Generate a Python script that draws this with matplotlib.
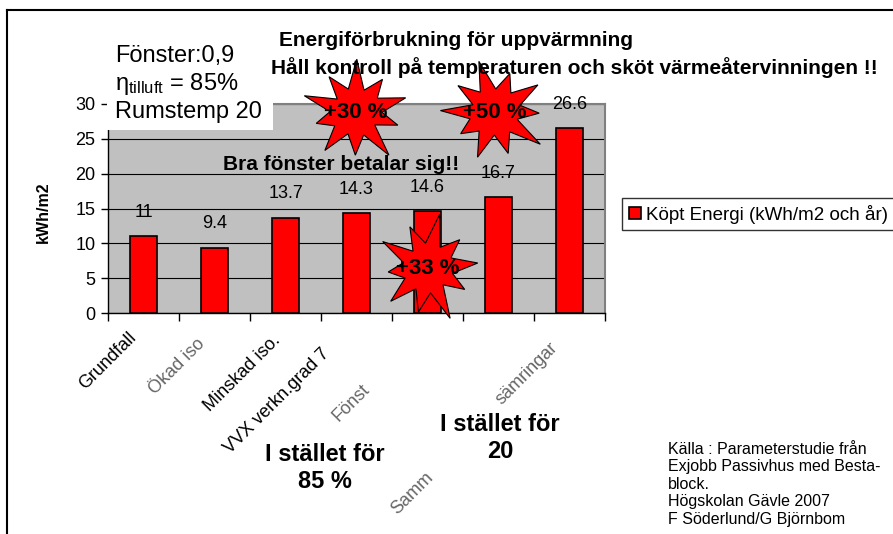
import numpy as np
import matplotlib
matplotlib.use('Agg')
import matplotlib.pyplot as plt
from matplotlib.patches import Polygon, Rectangle
from matplotlib.lines import Line2D
from matplotlib.transforms import ScaledTranslation

plt.rcParams['font.family'] = ['Liberation Sans', 'DejaVu Sans']
plt.rcParams['mathtext.fontset'] = 'custom'
plt.rcParams['mathtext.rm'] = 'Liberation Sans'

# Köpt energi per fall (kWh/m2 och år)
categories = ["Grundfall", "Ökad iso", "Minskad iso.", "VVX verkn.grad 7",
              "Fönst", "Samm", "sämringar"]
kopt_energi = [11, 9.4, 13.7, 14.3, 14.6, 16.7, 26.6]
value_labels = ["11", "9.4", "13.7", "14.3", "14.6", "16.7", "26.6"]
y_ticks = [0, 5, 10, 15, 20, 25, 30]
star_texts = ["+30 %", "+50 %", "+33 %"]

W, H = 893, 534
fig = plt.figure(figsize=(W / 100, H / 100), dpi=100)
ax = fig.add_axes([108 / W, 1 - 313 / H, 497 / W, 209 / H])

x = np.arange(len(categories))
ax.set_facecolor('#c0c0c0')
bars = ax.bar(x, kopt_energi, width=0.39, color='#ff0000', edgecolor='black',
              linewidth=1.2, zorder=3, label='Köpt Energi (kWh/m2 och år)')
for b, v, t in zip(bars, kopt_energi, value_labels):
    ax.annotate(t, (b.get_x() + b.get_width() / 2, v), xytext=(0, 17),
                textcoords='offset points', ha='center', va='center',
                fontsize=13, zorder=4)

ax.set_xlim(-0.5, len(categories) - 0.5)
ax.set_ylim(0, 30)
ax.set_yticks(y_ticks)
ax.tick_params(axis='y', labelsize=13, length=5, width=1, pad=4)
ax.yaxis.grid(True, color='black', linewidth=0.8)
ax.set_axisbelow(True)

ax.set_xticks(x)
ax.set_xticklabels(categories, rotation=45, ha='right', va='center',
                   rotation_mode='anchor', fontsize=13)
ax.set_xticks(np.arange(-0.5, len(categories), 1), minor=True)
ax.tick_params(axis='x', which='major', length=0, pad=16)
ax.tick_params(axis='x', which='minor', length=6, width=1)

# förskjutning (px) av kategoritexterna
shifts = [(-10, 0), (-12, 6), (-8, 3), (-30, 16), (-60, 52), (-68, 140), (-14, 10)]
for i, (lbl, (dx, dy)) in enumerate(zip(ax.get_xticklabels(), shifts)):
    lbl.set_transform(lbl.get_transform() +
                      ScaledTranslation(dx / 100, -dy / 100, fig.dpi_scale_trans))
    if i in (1, 4, 5, 6):
        lbl.set_color('#666666')

for s in ['left', 'bottom']:
    ax.spines[s].set_color('black')
    ax.spines[s].set_linewidth(1)
for s in ['top', 'right']:
    ax.spines[s].set_color('#808080')
    ax.spines[s].set_linewidth(1.5)

ax.set_ylabel('kWh/m2', fontsize=11.5, fontweight='bold')
ax.yaxis.set_label_coords(-(108 - 51) / 497, 0.48)

leg = ax.legend(loc='center left', bbox_to_anchor=(622 / W, 1 - 214 / H),
                bbox_transform=fig.transFigure, fontsize=13.5, frameon=True,
                fancybox=False, handlelength=0.65, handleheight=0.65,
                handletextpad=0.3, borderpad=0.35, borderaxespad=0)
leg.get_frame().set_edgecolor('black')
leg.get_frame().set_linewidth(1)

# överliggande lager i pixelkoordinater
ov = fig.add_axes([0, 0, 1, 1], facecolor='none')
ov.set_xlim(0, W)
ov.set_ylim(H, 0)
ov.axis('off')

ov.add_line(Line2D([7, W], [10, 10], color='black', lw=1.5))
ov.add_line(Line2D([7, 7], [10, H], color='black', lw=1.5))

ov.add_patch(Rectangle((107, 36), 166, 94, facecolor='white', edgecolor='none', zorder=2))
ov.text(115, 62, 'Fönster:0,9', fontsize=17, va='baseline', zorder=3)
ov.text(115, 90, r'$\mathregular{\eta_{tilluft}}$ = 85%', fontsize=17, va='baseline', zorder=3)
ov.text(115, 118, 'Rumstemp 20', fontsize=17, va='baseline', zorder=3)


def star(cx, cy, rx, ry, radii, rot=0.0):
    n = len(radii)
    ang = rot + np.arange(n) * 2 * np.pi / n
    r = np.array(radii)
    return np.column_stack([cx + rx * r * np.cos(ang), cy - ry * r * np.sin(ang)])


radii_a = [1.0, 0.5, 0.85, 0.48, 1.1, 0.5, 0.9, 0.45, 1.05, 0.5, 0.8, 0.5,
           1.0, 0.48, 0.9, 0.5, 1.1, 0.45, 0.85, 0.5]
stars = [(356, 112, 52, 48, 0.3), (495, 112, 52, 48, 0.6), (428, 268, 50, 50, 0.1)]
for (cx, cy, rx, ry, rot), txt in zip(stars, star_texts):
    ov.add_patch(Polygon(star(cx, cy, rx, ry, radii_a, rot), closed=True,
                         facecolor='#ff0000', edgecolor='black', lw=0.8, zorder=4))
    ov.text(cx, cy, txt, fontsize=16, fontweight='bold', ha='center', va='center', zorder=5)

ov.text(456, 40, 'Energiförbrukning för uppvärmning', fontsize=15,
        fontweight='bold', ha='center', va='center', zorder=6)
ov.text(574, 68, 'Håll kontroll på temperaturen och sköt värmeåtervinningen !!',
        fontsize=15, fontweight='bold', ha='center', va='center', zorder=6)
ov.text(341, 165, 'Bra fönster betalar sig!!', fontsize=15, fontweight='bold',
        ha='center', va='center', zorder=6)

ov.text(325, 468, 'I stället för\n85 %', fontsize=17, fontweight='bold',
        ha='center', va='center', linespacing=1.25, zorder=6)
ov.text(500, 438, 'I stället för\n20', fontsize=17, fontweight='bold',
        ha='center', va='center', linespacing=1.25, zorder=6)

ov.text(668, 442, 'Källa : Parameterstudie från\nExjobb Passivhus med Besta-\nblock.\n'
        'Högskolan Gävle 2007\nF Söderlund/G Björnbom', fontsize=11.5,
        ha='left', va='top', linespacing=1.2, zorder=6)

fig.savefig('out.png', dpi=100)
